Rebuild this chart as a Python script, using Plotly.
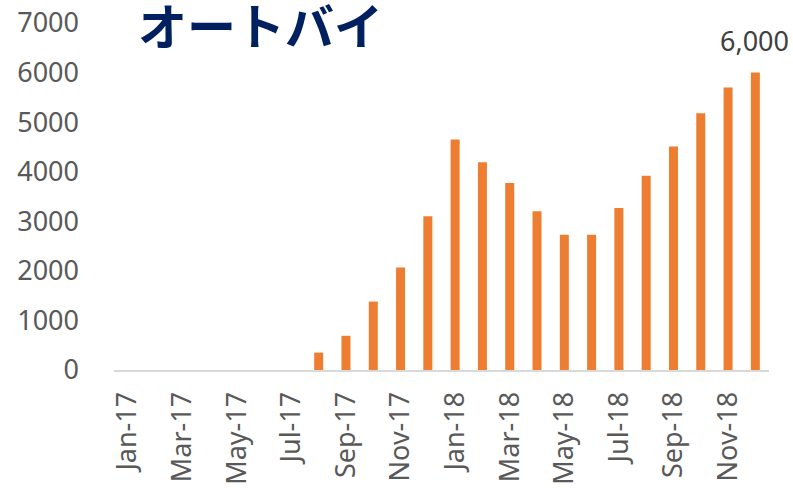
import plotly.graph_objects as go

months = ["Jan-17", "Feb-17", "Mar-17", "Apr-17", "May-17", "Jun-17", "Jul-17", "Aug-17",
          "Sep-17", "Oct-17", "Nov-17", "Dec-17", "Jan-18", "Feb-18", "Mar-18", "Apr-18",
          "May-18", "Jun-18", "Jul-18", "Aug-18", "Sep-18", "Oct-18", "Nov-18", "Dec-18"]
values = [0, 0, 0, 0, 0, 0, 0, 350,
          690, 1380, 2070, 3100, 4650, 4190, 3770, 3200,
          2730, 2730, 3270, 3920, 4510, 5180, 5700, 6000]
tick_labels = months[::2]
y_ticks = [0, 1000, 2000, 3000, 4000, 5000, 6000, 7000]
title_text = "オートバイ"
label_text = "6,000"

gray = "#595959"
fs = 27
fig = go.Figure()
fig.add_trace(go.Bar(x=months, y=values, marker=dict(color="#ED7D31", line=dict(width=0)),
                     showlegend=False))
fig.add_annotation(x=months[-1], y=values[-1], text=label_text, showarrow=False,
                   yanchor="bottom", yshift=12, xshift=-1,
                   font=dict(family="Noto Sans", size=fs, color="#404040"))
fig.add_annotation(xref="paper", yref="paper", x=0.034, y=1, xanchor="left", yanchor="middle",
                   yshift=0,
                   text="<b>" + title_text + "</b>", showarrow=False,
                   font=dict(family="Noto Sans CJK JP", size=49, color="#002060"))
fig.update_layout(
    width=793, height=488,
    margin=dict(l=114, r=24, t=23, b=118),
    plot_bgcolor="white", paper_bgcolor="white",
    bargap=0.67,
    xaxis=dict(type="category", tickmode="array", tickvals=tick_labels, ticktext=tick_labels,
               range=[-0.5, len(months) - 0.5],
               tickangle=-90, showgrid=False, showline=True, linecolor="#D9D9D9", linewidth=2,
               ticks="", automargin=False, ticklabelstandoff=9, ticklabeloverflow="allow",
               tickfont=dict(family="Noto Sans", size=fs, color=gray)),
    yaxis=dict(range=[0, 7000], tickvals=y_ticks, showgrid=False, zeroline=False,
               showline=False, ticks="", automargin=False, ticklabelstandoff=34,
               ticklabeloverflow="allow",
               tickfont=dict(family="Noto Sans", size=fs, color=gray)),
)
fig.write_html("out.html", config={"displayModeBar": False},
               post_script="document.body.style.margin='0px';")
